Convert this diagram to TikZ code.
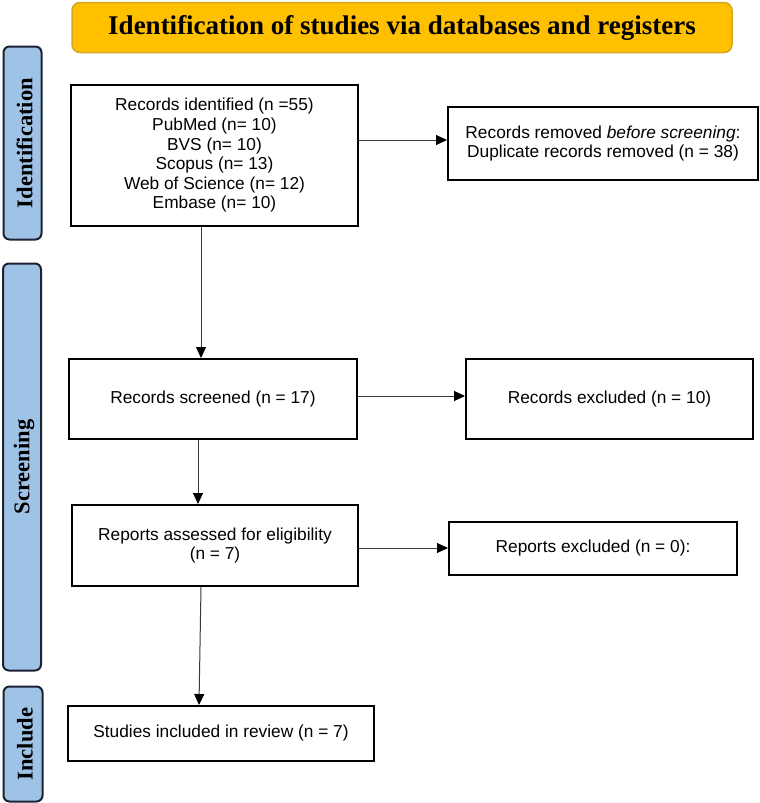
\documentclass[tikz,border=0pt]{standalone}
\usepackage{fontspec}
\setmainfont{Liberation Sans}
\newfontfamily\titlefont{Liberation Serif}
\usetikzlibrary{arrows.meta}
\definecolor{titlefill}{HTML}{FFC000}
\definecolor{titledraw}{HTML}{D9A521}
\definecolor{sidefill}{HTML}{9FC3E7}
\definecolor{sidedraw}{HTML}{1A2233}
\definecolor{arrcol}{HTML}{3A3A3A}
\begin{document}
\begin{tikzpicture}[x=1pt,y=-1pt,
  box/.style={draw=black,line width=2pt,fill=white,inner sep=0pt,align=center,
    font=\fontsize{17.3}{19.6}\selectfont},
  sidebox/.style={draw=sidedraw,line width=2pt,fill=sidefill,rounded corners=6pt,inner sep=0pt},
  sidetext/.style={rotate=90,font=\titlefont\bfseries\fontsize{22.5}{24}\selectfont},
  arr/.style={draw=arrcol,line width=1pt,-{Triangle[length=11pt,width=10pt,fill=black,color=black]}}]
\useasboundingbox (0,0) rectangle (760,803);
% title
\node[draw=titledraw,line width=1.5pt,fill=titlefill,rounded corners=8pt,
  minimum width=660pt,minimum height=50pt,inner sep=0pt,
  font=\titlefont\bfseries\fontsize{27}{30}\selectfont] (title) at (402,27.5)
  {Identification of studies via databases and registers};
% side labels
\node[sidebox,minimum width=38pt,minimum height=193pt] (lid) at (22.5,143) {};
\node[sidetext] (lidt) at ([xshift=2pt]lid.center) {Identification};
\node[sidebox,minimum width=38pt,minimum height=407pt] (lsc) at (22,467) {};
\node[sidetext] (lsct) at ([xshift=2pt]lsc.center) {Screening};
\node[sidebox,minimum width=39pt,minimum height=115pt] (lin) at (23,744) {};
\node[sidetext] (lint) at ([xshift=2pt]lin.center) {Include};
% boxes
\node[box,minimum width=287pt,minimum height=141pt] (b1) at (214.5,155.5)
  {Records identified (n =55)\\PubMed (n= 10)\\BVS (n= 10)\\Scopus (n= 13)\\Web of Science (n= 12)\\Embase (n= 10)};
\node[box,minimum width=310pt,minimum height=73pt] (b2) at (603,143.5)
  {Records removed \textit{before screening}:\\Duplicate records removed (n = 38)};
\node[box,minimum width=288pt,minimum height=80pt] (b3) at (213,399)
  {Records screened (n = 17)};
\node[box,minimum width=287pt,minimum height=80pt] (b4) at (609.5,399)
  {Records excluded (n = 10)};
\node[box,minimum width=286pt,minimum height=81pt] (b5) at (215,545.5)
  {Reports assessed for eligibility\\(n = 7)};
\node[box,minimum width=288pt,minimum height=53pt] (b6) at (593,548.5)
  {Reports excluded (n = 0):};
\node[box,minimum width=306pt,minimum height=55pt] (b7) at (221,733.5)
  {Studies included in review (n = 7)};
% connectors
\draw[arr] ([yshift=3.5pt]b1.east |- b2.west) -- ([yshift=3.5pt]b2.west);
\draw[arr] ([xshift=-13.5pt]b1.south) -- ([xshift=-13.5pt]b1.south |- b3.north);
\draw[arr] ([yshift=3pt]b3.east) -- ([yshift=3pt]b3.east -| b4.west);
\draw[arr] ([xshift=-15pt]b3.south) -- ([xshift=-15pt]b3.south |- b5.north);
\draw[arr] ([yshift=-2.5pt]b5.east) -- ([yshift=-2.5pt]b5.east -| b6.west);
\draw[arr] ([xshift=-14pt]b5.south) -- ([xshift=-22pt]b7.north);
\end{tikzpicture}
\end{document}
